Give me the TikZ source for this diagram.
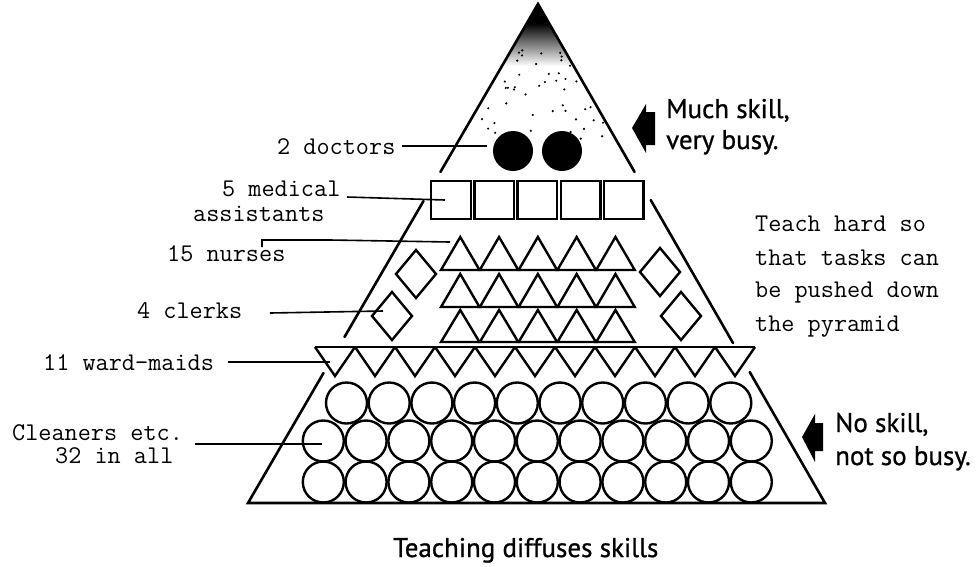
\documentclass[tikz,border=0pt]{standalone}
\usepackage{fontspec}
\newfontfamily\hsans[FakeBold=0.8]{PT Sans}
\usetikzlibrary{calc}
\begin{document}
\begin{tikzpicture}[x=1pt,y=-1pt,
  edge/.style={line width=2.6pt, line cap=round},
  shp/.style={draw, line width=2.4pt, line join=miter},
  lead/.style={line width=1.6pt},
  mono/.style={font=\fontsize{25.5}{30}\selectfont\ttfamily, inner sep=0pt, anchor=base west},
  sanslab/.style={font=\fontsize{27}{30}\selectfont\hsans, inner sep=0pt, anchor=base west},
  disc/.style={circle, fill=black, minimum size=40pt, inner sep=0pt},
  sq/.style={draw, line width=2.4pt, minimum width=39.5pt, minimum height=38pt, inner sep=0pt, anchor=north west},
  ring/.style={circle, draw, line width=2.4pt, minimum size=41pt, inner sep=0pt}]
\useasboundingbox (0,0) rectangle (979,566);

% apex shading
\begin{scope}
\clip (538,4) -- (248,503) -- (825,503) -- cycle;
\fill (400,4) rectangle (680,24);
\shade[top color=black, middle color=black!75, bottom color=white] (400,23) rectangle (680,66);
\pgfmathsetseed{7}
\foreach \k in {1,...,45}{
  \pgfmathsetmacro\yy{50+90*rnd}
  \pgfmathsetmacro\xx{538+(2*rnd-1)*0.55*(\yy-4)}
  \fill (\xx,\yy) circle (1.2pt);
}
\end{scope}

% pyramid edges
\draw[edge] (440.4,172) -- (538,4) -- (634.6,172);
\draw[edge] (423.5,201) -- (344.5,337);
\draw[edge] (650.7,200) -- (733,343);
\draw[edge] (323.5,373) -- (248,503) -- (825,503) -- (749.7,372);

% doctors
\node[disc] (d1) at (513,151) {};
\node[disc] (d2) at (562,151) {};

% medical assistants
\foreach \i in {0,...,4}{
  \node[sq] (s\i) at (430+43.2*\i,180) {};
}

% nurses
\foreach \r/\ya/\yb in {0/237/270,1/274/307,2/310/342}{
  \foreach \i in {0,...,4}{
    \draw[shp] (441+38.8*\i,\yb) -- (460.25+38.8*\i,\ya) -- (479.5+38.8*\i,\yb) -- cycle;
  }
}

% clerks
\foreach \cx/\cy in {416/274,392/316,660/272,681/316}{
  \draw[shp] (\cx-20,\cy) -- (\cx,\cy-24) -- (\cx+20,\cy) -- (\cx,\cy+24) -- cycle;
}

% ward-maids
\draw[shp] (315,347) -- (755,347);
\foreach \i in {0,...,10}{
  \draw[shp] (315+40*\i,347) -- (335+40*\i,376) -- (355+40*\i,347);
}

% cleaners
\foreach \i in {0,...,9}{
  \node[ring] (ca\i) at (346.5+42.7*\i,403) {};
}
\foreach \i in {0,...,10}{
  \node[ring] (cb\i) at (323.3+42.8*\i,441) {};
  \node[ring] (cc\i) at (323.3+42.8*\i,482) {};
}

% left labels
\node[mono] (ldoc) at (277,154) {2 doctors};
\node[mono] (lmed) at (222,196) {5 medical};
\node[mono] (lass) at (193,221) {assistants};
\node[mono] (lnur) at (167,261) {15 nurses};
\node[mono] (lcle) at (137,318) {4 clerks};
\node[mono] (lwar) at (43,370) {11 ward-maids};
\node[mono] (lcl1) at (12,440) {Cleaners etc.};
\node[mono] (lcl2) at (55,463) {32 in all};

\coordinate (sdoc) at (402,146);
\coordinate (edoc) at (487,146);
\coordinate (smed) at (347,197);
\coordinate (emed) at (445,200);
\coordinate (snur) at (262,247);
\coordinate (enur) at (450,242);
\coordinate (scle) at (270,313);
\coordinate (ecle) at (383,311);
\coordinate (swar) at (228,362);
\coordinate (ewar) at (330,362);
\coordinate (scln) at (195,444);
\coordinate (ecln) at (322,444);

\draw[lead] (sdoc) -- (edoc);
\draw[lead] (smed) -- (emed);
\draw[lead] (snur) -- (262,240) -- (330,240) -- (enur);
\draw[lead] (scle) -- (ecle);
\draw[lead] (swar) -- (ewar);
\draw[lead] (scln) -- (ecln);

% right notes
\fill (632,128) -- (646,104) -- (646,112) -- (655,112) -- (655,145) -- (646,145) -- (646,153) -- cycle;
\node[sanslab] (much1) at (666,118) {Much skill,};
\node[sanslab] (much2) at (666,149) {very busy.};

\fill (802,437) -- (815,414) -- (815,423) -- (823,423) -- (823,451) -- (815,451) -- (815,462) -- cycle;
\node[sanslab] (no1) at (835,432) {No skill,};
\node[sanslab] (no2) at (835,465) {not so busy.};

\node[mono] (t1) at (755,231) {Teach hard so};
\node[mono] (t2) at (755,265) {that tasks can};
\node[mono] (t3) at (755,297) {be pushed down};
\node[mono] (t4) at (755,331) {the pyramid};

\node[sanslab] (cap) at (393,557) {Teaching diffuses skills};
\end{tikzpicture}
\end{document}
